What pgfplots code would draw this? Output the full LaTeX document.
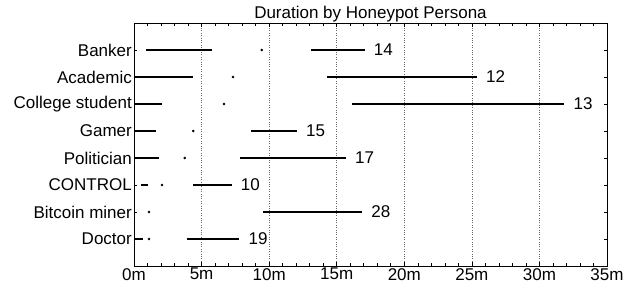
\documentclass[border=0pt]{standalone}
\usepackage{pgfplots}
\pgfplotsset{compat=1.18}
\usepackage{fontspec}
\setmainfont{Liberation Sans}
\tikzset{lab/.style={anchor=west, inner sep=0pt, xshift=9pt}}
\begin{document}
\begin{tikzpicture}
\begin{axis}[
  scale only axis, width=473pt, height=243pt,
  xmin=0, xmax=35, ymin=0, ymax=9,
  font=\fontsize{17}{20}\selectfont,
  /pgf/number format/assume math mode=true,
  xtick={0,5,...,35}, minor x tick num=4,
  xticklabel={\pgfmathprintnumber{\tick}m},
  ytick={1,...,8},
  yticklabels={Doctor,Bitcoin miner,CONTROL,Politician,Gamer,College student,Academic,Banker},
  tick align=inside, major tick length=3.5pt, minor tick length=2.5pt,
  xmajorgrids, major grid style={black!60, dotted, line width=0.6pt},
  axis line style={line width=0.9pt}, tick style={black, line width=0.6pt},
  xticklabel style={inner sep=1pt, yshift=-1pt},
  yticklabel style={inner sep=2pt},
  title={Duration by Honeypot Persona},
  title style={at={(0.5,1)}, anchor=south, inner sep=2pt, yshift=-7.5pt},
  seg/.style={black, line width=1.4pt, mark=none, forget plot},
  dot/.style={black, only marks, mark=*, mark size=1.1pt, forget plot},
]
% Banker (8)
\addplot[seg] coordinates {(0.87,8) (5.77,8)};
\addplot[seg] coordinates {(13.1,8) (17.07,8)};
\addplot[dot] coordinates {(9.46,8)};
\node[lab] at (axis cs:17.07,8) {14};
% Academic (7)
\addplot[seg] coordinates {(0,7) (4.38,7)};
\addplot[seg] coordinates {(14.28,7) (25.37,7)};
\addplot[dot] coordinates {(7.33,7)};
\node[lab] at (axis cs:25.37,7) {12};
% College student (6)
\addplot[seg] coordinates {(0,6) (2.1,6)};
\addplot[seg] coordinates {(16.14,6) (31.85,6)};
\addplot[dot] coordinates {(6.66,6)};
\node[lab] at (axis cs:31.85,6) {13};
% Gamer (5)
\addplot[seg] coordinates {(0,5) (1.66,5)};
\addplot[seg] coordinates {(8.64,5) (12.06,5)};
\addplot[dot] coordinates {(4.38,5)};
\node[lab] at (axis cs:12.06,5) {15};
% Politician (4)
\addplot[seg] coordinates {(0,4) (1.86,4)};
\addplot[seg] coordinates {(7.85,4) (15.69,4)};
\addplot[dot] coordinates {(3.76,4)};
\node[lab] at (axis cs:15.69,4) {17};
% CONTROL (3)
\addplot[seg] coordinates {(0.55,3) (1.04,3)};
\addplot[seg] coordinates {(4.38,3) (7.23,3)};
\addplot[dot] coordinates {(2.08,3)};
\node[lab] at (axis cs:7.23,3) {10};
% Bitcoin miner (2)
\addplot[seg] coordinates {(9.58,2) (16.88,2)};
\addplot[dot] coordinates {(1.11,2)};
\node[lab] at (axis cs:16.88,2) {28};
% Doctor (1)
\addplot[seg] coordinates {(0,1) (0.67,1)};
\addplot[seg] coordinates {(3.89,1) (7.8,1)};
\addplot[dot] coordinates {(1.11,1)};
\node[lab] at (axis cs:7.8,1) {19};
\end{axis}
\pgfresetboundingbox
\path[use as bounding box] (-134pt,-22pt) rectangle (498pt,266pt);
\end{tikzpicture}
\end{document}
